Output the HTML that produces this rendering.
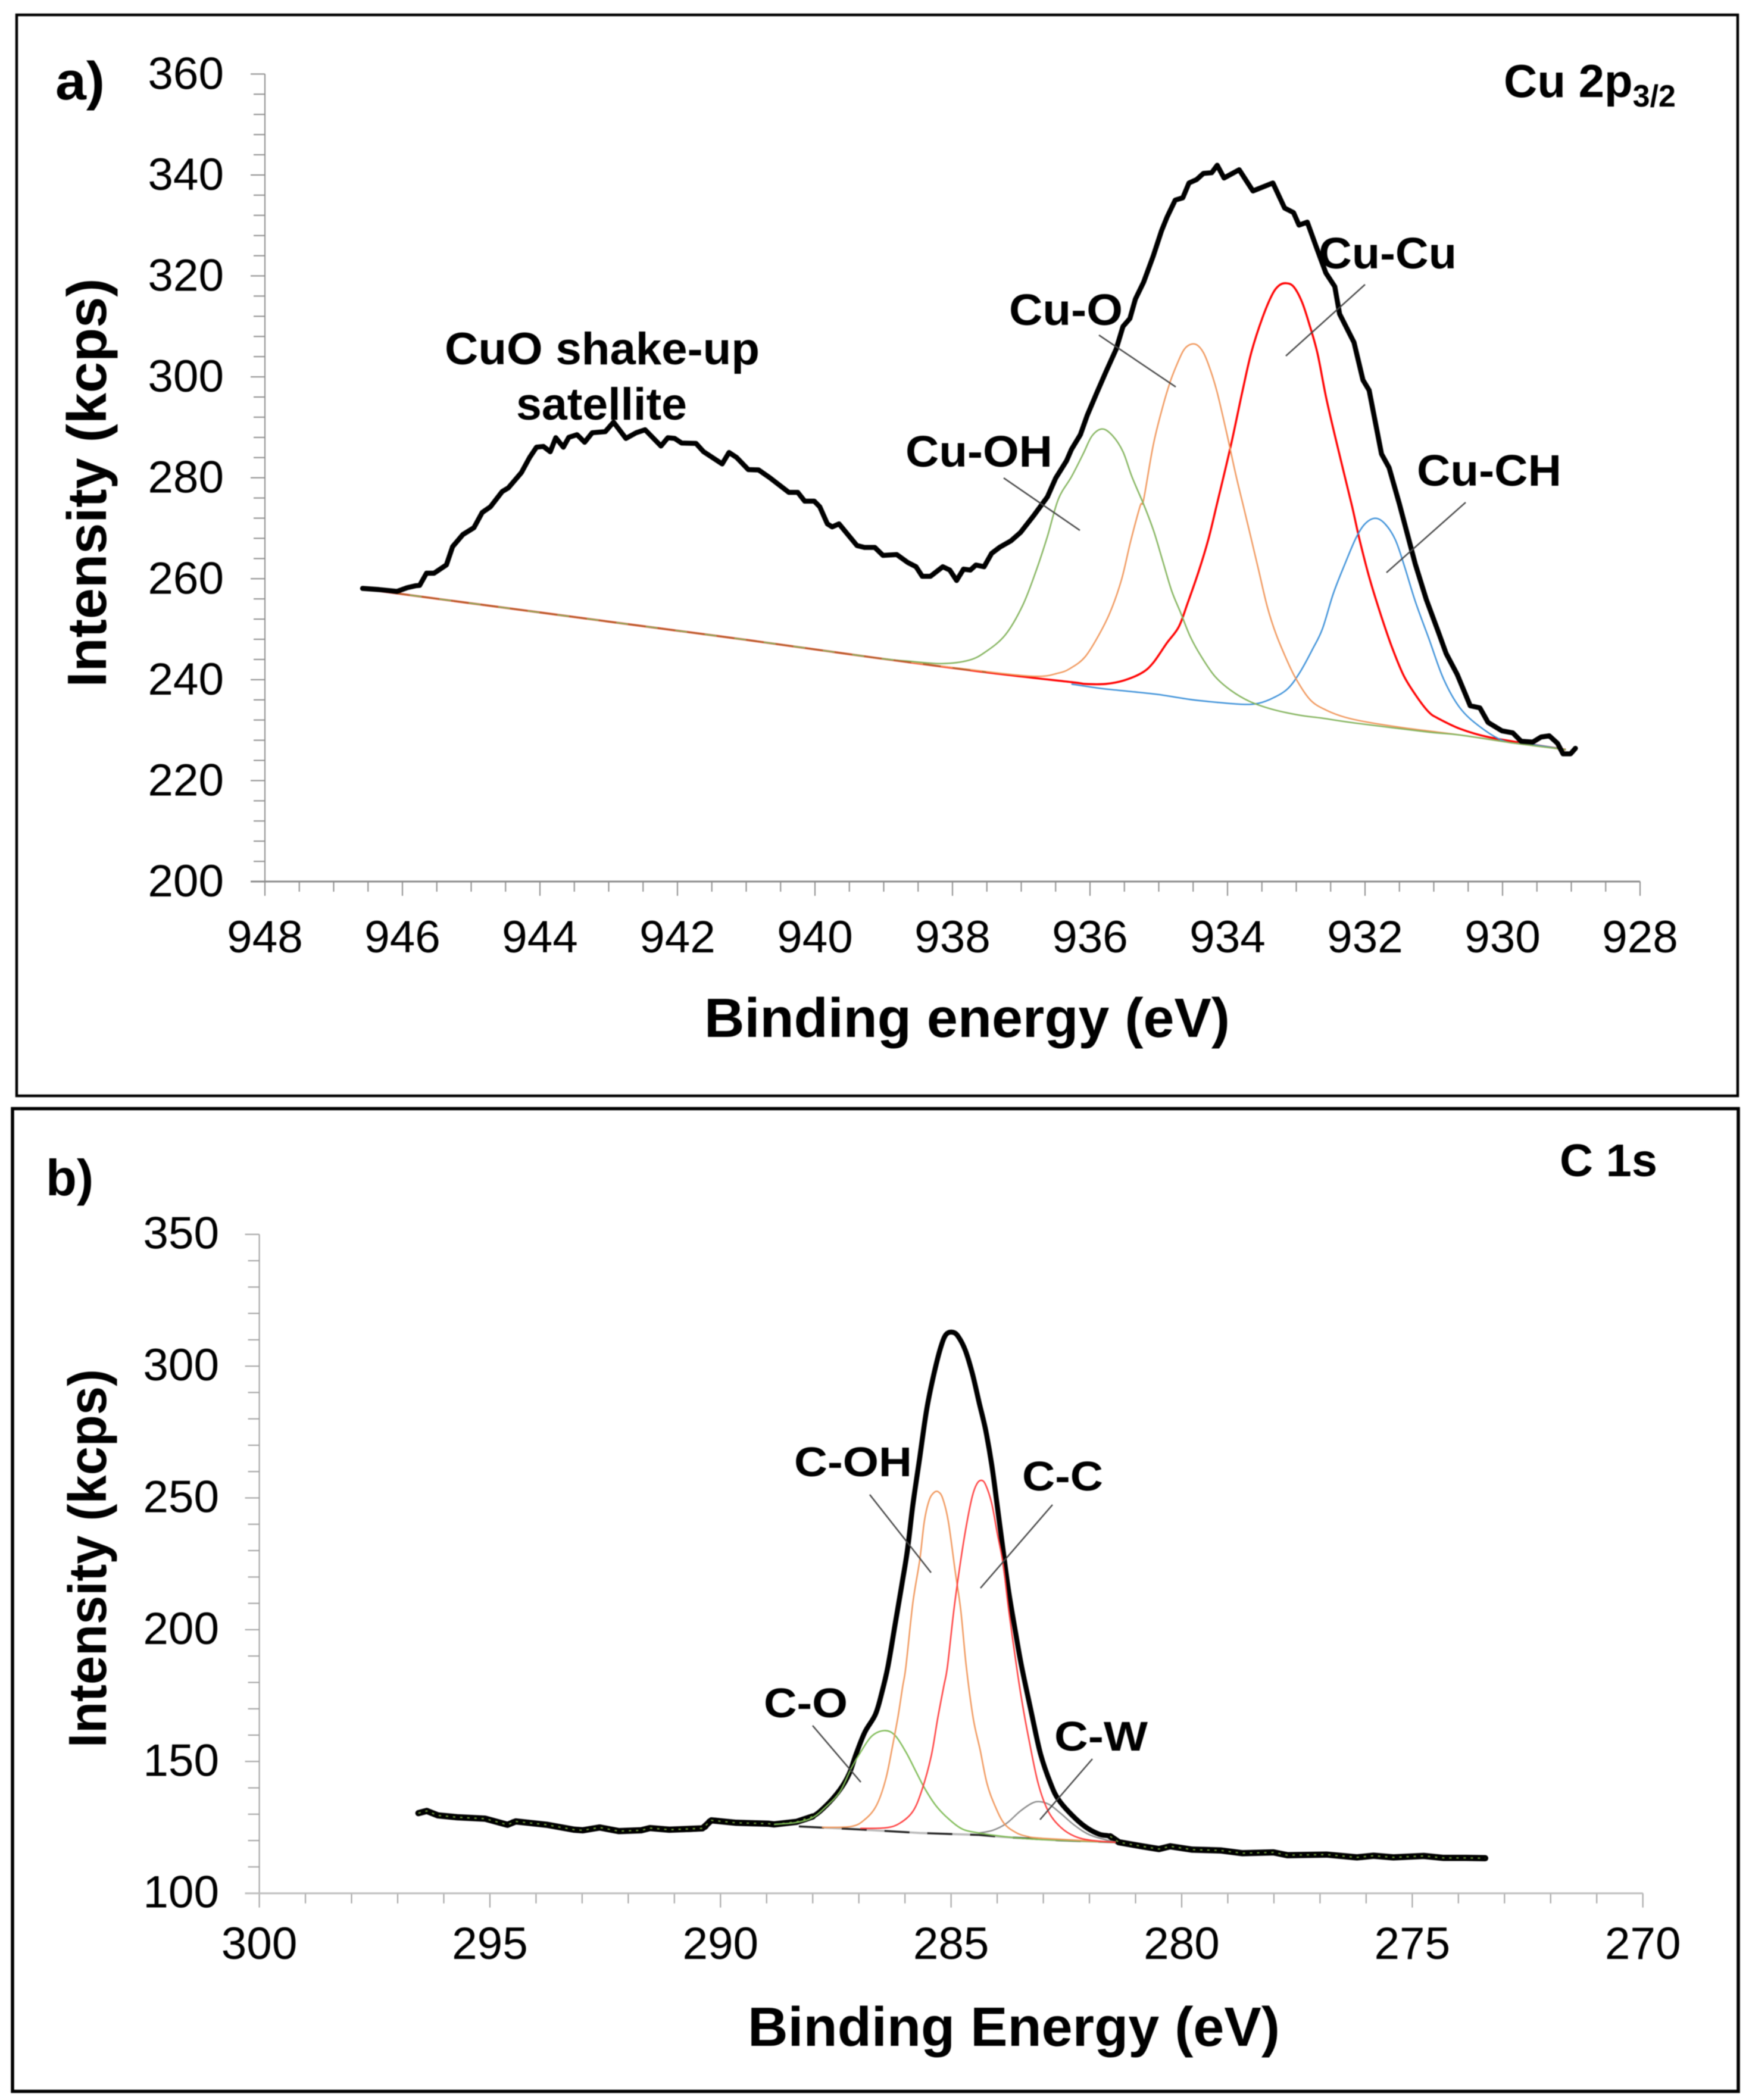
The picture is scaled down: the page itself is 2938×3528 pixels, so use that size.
<!DOCTYPE html>
<html lang="en">
<head>
<meta charset="utf-8">
<title>XPS spectra: Cu 2p3/2 and C 1s</title>
<style>
html,body{margin:0;padding:0;background:#fff;}
svg{display:block;filter:blur(0.9px);}
text{font-family:"Liberation Sans",Arial,sans-serif;fill:#000;}
.b{font-weight:bold;}
</style>
</head>
<body>
<svg id="figure" xmlns="http://www.w3.org/2000/svg" width="2938" height="3528" viewBox="0 0 2938 3528">
  <rect x="0" y="0" width="2938" height="3528" fill="#fff"/>
  <rect x="28" y="25" width="2891" height="1816" fill="none" stroke="#000" stroke-width="4.5"/>
  <rect x="21" y="1862.5" width="2899" height="1651" fill="none" stroke="#000" stroke-width="5.5"/>
  <g id="panel-a"></g>
  <g id="panel-b"></g>

  <g>
    <text class="b" x="93" y="167" font-size="90" textLength="83" lengthAdjust="spacingAndGlyphs">a)</text>
    <text class="b" x="2526" y="163" font-size="78">Cu 2p<tspan dy="16" font-size="52">3/2</tspan></text>
    <text class="b" x="1183" y="1742" font-size="93" textLength="883" lengthAdjust="spacingAndGlyphs">Binding energy (eV)</text>
    <text class="b" x="178" y="811" font-size="93" text-anchor="middle" textLength="687" lengthAdjust="spacingAndGlyphs" transform="rotate(-90 178 811)">Intensity (kcps)</text>
    <text class="b" x="747" y="612" font-size="76" textLength="529" lengthAdjust="spacingAndGlyphs">CuO shake-up</text>
    <text class="b" x="867" y="705" font-size="76" textLength="287" lengthAdjust="spacingAndGlyphs">satellite</text>
    <text class="b" x="1521" y="784" font-size="74" textLength="247" lengthAdjust="spacingAndGlyphs">Cu-OH</text>
    <text class="b" x="1695" y="546" font-size="74" textLength="191" lengthAdjust="spacingAndGlyphs">Cu-O</text>
    <text class="b" x="2215" y="451" font-size="74" textLength="232" lengthAdjust="spacingAndGlyphs">Cu-Cu</text>
    <text class="b" x="2380" y="816" font-size="74" textLength="243" lengthAdjust="spacingAndGlyphs">Cu-CH</text>
  </g>

  <g>
    <text class="b" x="77" y="2008" font-size="85">b)</text>
    <text class="b" x="2620" y="1976" font-size="77" textLength="164" lengthAdjust="spacingAndGlyphs">C 1s</text>
    <text class="b" x="1256" y="3437" font-size="93" textLength="894" lengthAdjust="spacingAndGlyphs">Binding Energy (eV)</text>
    <text class="b" x="178" y="2618" font-size="90" text-anchor="middle" textLength="636" lengthAdjust="spacingAndGlyphs" transform="rotate(-90 178 2618)">Intensity (kcps)</text>
    <text class="b" x="1334" y="2480" font-size="70" textLength="198" lengthAdjust="spacingAndGlyphs">C-OH</text>
    <text class="b" x="1717" y="2504" font-size="70" textLength="136" lengthAdjust="spacingAndGlyphs">C-C</text>
    <text class="b" x="1283" y="2885" font-size="70" textLength="141" lengthAdjust="spacingAndGlyphs">C-O</text>
    <text class="b" x="1771" y="2941" font-size="70" textLength="157" lengthAdjust="spacingAndGlyphs">C-W</text>
  </g>

  <g stroke="#444" stroke-width="2.4" fill="none">
    <line x1="1686" y1="803" x2="1814" y2="891"/>
    <line x1="1846" y1="563" x2="1975" y2="650"/>
    <line x1="2293" y1="478" x2="2160" y2="598"/>
    <line x1="2462" y1="844" x2="2329" y2="962"/>
    <line x1="1461" y1="2511" x2="1564" y2="2642"/>
    <line x1="1768" y1="2528" x2="1647" y2="2668"/>
    <line x1="1365" y1="2899" x2="1446" y2="2994"/>
    <line x1="1835" y1="2955" x2="1747" y2="3057"/>
  </g>
</svg>

<script>
/* ---------- Panel a: tick values ---------- */
var aXTicks = [948, 946, 944, 942, 940, 938, 936, 934, 932, 930, 928];
var aYTicks = [200, 220, 240, 260, 280, 300, 320, 340, 360];

/* Panel a: measured envelope */
var aMainEnergy = [946.58,946.34,946.08,945.93,945.81,945.75,945.65,945.54,945.36,945.27,945.12,944.96,944.84,944.72,944.55,944.46,944.27,944.15,944.05,943.95,943.85,943.77,943.66,943.58,943.46,943.35,943.24,943.05,942.93,942.75,942.6,942.47,942.24,942.14,942.04,941.94,941.73,941.62,941.35,941.25,941.14,940.97,940.82,940.66,940.38,940.25,940.15,940.01,939.93,939.82,939.75,939.65,939.39,939.28,939.13,939.01,938.81,938.65,938.53,938.44,938.32,938.14,938.04,937.94,937.84,937.74,937.66,937.54,937.43,937.31,937.15,937.01,936.82,936.62,936.5,936.34,936.27,936.14,936.04,935.9,935.77,935.62,935.52,935.42,935.34,935.22,935.08,934.96,934.88,934.76,934.65,934.56,934.45,934.35,934.23,934.15,934.05,933.83,933.63,933.34,933.17,933.04,932.96,932.84,932.71,932.57,932.44,932.37,932.16,932.03,931.94,931.76,931.65,931.5,931.27,931.11,930.93,930.82,930.66,930.47,930.33,930.21,930.01,929.85,929.73,929.56,929.44,929.32,929.2,929.12,929.01,928.94];
var aMainIntensity = [258.08,257.85,257.48,258.23,258.6,258.68,261.09,261.09,262.74,266.35,268.76,270.11,273.12,274.25,277.26,278.01,281.02,284.03,286.06,286.21,285.16,287.94,286.06,288.02,288.54,287.04,288.92,289.14,291.02,287.79,288.92,289.52,286.29,287.94,287.79,286.89,286.81,285.16,282.75,285.01,284.03,281.62,281.55,280.04,277.11,277.11,275.38,275.38,274.25,270.87,270.27,270.87,266.58,266.2,266.2,264.62,264.78,263.21,262.38,260.48,260.48,262.38,261.72,259.65,261.89,261.72,262.71,262.38,265.03,266.27,267.51,269.17,272.48,276.2,279.92,283.4,285.61,288.54,292.38,296.89,300.95,305.47,309.98,311.56,315.39,318.78,323.97,328.93,331.64,335.03,335.48,338.41,339.09,340.31,340.44,341.93,339.4,341.03,336.83,338.41,333.45,332.54,330.06,330.65,325.77,320.58,317.88,312.46,306.82,299.37,297.34,284.71,282.0,274.78,262.96,255.93,249.31,245.17,241.04,234.83,234.42,231.52,229.87,229.45,227.8,227.63,228.63,228.87,227.39,225.31,225.31,226.39];

/* Panel a: fitted component Cu-OH */
var aCuOhEnergy = [946.58,943,941,939.13,938.65,938.16,937.76,937.51,937.23,936.98,936.78,936.62,936.46,936.27,936.1,935.97,935.82,935.67,935.52,935.39,935.21,935.07,934.94,934.81,934.68,934.54,934.38,934.18,933.95,933.68,933.35,932.95,932.62,932.13,931.07,930.62,929.81,929.08];
var aCuOhIntensity = [258.0,251.5,247.9,244.35,243.68,243.19,243.85,245.59,248.9,254.69,261.72,268.34,275.79,280.19,284.71,288.31,289.67,288.31,285.16,280.19,274.42,269.31,263.41,257.52,253.19,248.48,244.54,240.61,237.86,235.7,234.13,232.95,232.36,231.38,229.6,229.04,227.39,226.14];

/* Panel a: fitted component Cu-O */
var aCuOEnergy = [946.58,943,941,939.13,938,936.86,936.46,936.27,936.07,935.87,935.7,935.54,935.41,935.27,935.22,935.08,934.94,934.83,934.74,934.64,934.55,934.45,934.35,934.25,934.15,934.01,933.88,933.77,933.68,933.55,933.42,933.29,933.12,932.99,932.79,932.56,932.29,931.96,931.43,930.62,929.81,929.08];
var aCuOIntensity = [258.0,251.5,247.9,244.35,242.4,240.7,241.3,242.38,244.54,248.87,253.59,259.88,267.34,274.42,275.68,286.51,294.18,299.15,302.31,305.24,306.37,306.37,304.79,301.4,296.89,288.77,280.64,274.42,269.31,261.84,254.37,248.87,243.37,239.83,235.9,233.93,232.55,231.57,230.45,229.04,227.39,226.14];

/* Panel a: fitted component Cu-Cu */
var aCuCuEnergy = [946.58,943,941,939.13,937.51,936.27,936.07,935.77,935.51,935.24,935.08,934.88,934.71,934.58,934.41,934.28,934.16,933.95,933.78,933.65,933.49,933.35,933.25,933.15,933.04,932.92,932.81,932.69,932.56,932.39,932.19,932.08,931.93,931.76,931.6,931.43,931.23,931.07,930.94,930.62,930.21,929.56,929.08];
var aCuCuIntensity = [258.0,251.5,247.9,244.35,241.45,239.51,239.16,239.16,239.83,241.4,243.37,247.3,250.44,255.16,261.84,267.74,274.42,286.51,297.34,305.01,311.78,316.3,318.1,318.55,317.88,314.94,310.43,304.56,295.54,285.61,274.42,267.74,259.87,252.41,246.12,240.61,236.29,233.54,232.35,230.28,228.63,227.14,226.14];

/* Panel a: fitted component Cu-CH */
var aCuChEnergy = [936.27,935.84,935.41,935.01,934.55,934.15,933.78,933.55,933.32,933.12,932.95,932.76,932.62,932.46,932.29,932.13,932.0,931.85,931.71,931.56,931.43,931.27,931.07,930.86,930.62,930.33,929.97,929.56,929.08];
var aCuChIntensity = [239.12,238.26,237.66,237.07,236.09,235.5,235.11,235.31,236.49,238.26,241.4,246.12,250.05,257.12,263.02,268.13,270.88,271.98,270.88,267.74,262.63,255.55,248.08,240.21,234.42,230.69,227.8,227.14,226.14];

/* ---------- Panel b: tick values ---------- */
var bXTicks = [300, 295, 290, 285, 280, 275, 270];
var bYTicks = [100, 150, 200, 250, 300, 350];

/* Panel b: measured envelope */
var bMainEnergy = [296.55,296.37,296.13,295.71,295.1,294.62,294.44,293.77,293.17,292.99,292.62,292.2,291.72,291.53,291.11,290.39,290.2,289.66,288.95,288.84,288.35,288.0,287.71,287.41,287.21,287.06,286.87,286.64,286.5,286.37,286.22,286.07,285.95,285.83,285.68,285.53,285.38,285.23,285.11,284.96,284.84,284.69,284.54,284.39,284.25,284.12,284.0,283.87,283.75,283.6,283.47,283.26,283.06,282.84,282.67,282.37,282.07,281.78,281.55,281.36,280.86,280.49,280.25,279.77,279.16,278.68,278.01,277.71,276.86,276.2,275.84,275.41,274.75,274.32,273.84,273.42];
var bMainIntensity = [130.4,131.24,129.56,128.83,128.3,126.0,127.26,126.0,124.11,123.9,124.95,123.58,123.9,124.74,124.11,124.63,127.67,126.73,126.37,126.12,127.1,129.13,133.27,139.3,145.32,152.85,161.13,167.9,176.2,185.96,201.34,216.9,229.86,247.15,265.3,283.45,296.41,306.79,311.97,312.84,311.11,305.92,297.28,286.04,275.67,262.71,247.15,229.86,214.31,198.75,185.96,168.66,152.85,141.56,135.53,129.51,124.99,122.36,121.61,119.35,117.82,116.77,117.82,116.56,116.25,115.2,115.51,114.46,114.67,113.62,114.25,113.62,114.15,113.41,113.41,113.31];

/* Panel b: fitted component C-O */
var bCOEnergy = [288.84,288.35,288.0,287.71,287.41,287.16,286.96,286.72,286.45,286.22,285.98,285.78,285.58,285.33,285.04,284.74,284.4,283.9,283.16,281.43];
var bCOIntensity = [126.12,126.88,128.76,132.9,138.54,147.58,153.6,159.62,161.73,160.0,153.6,146.82,140.05,133.27,128.0,124.24,122.88,121.61,120.48,119.35];

/* Panel b: fitted component C-OH */
var bCOhEnergy = [287.8,287.16,286.87,286.62,286.42,286.27,286.15,286.05,285.98,285.83,285.68,285.58,285.48,285.38,285.28,285.18,285.06,284.91,284.79,284.67,284.52,284.37,284.22,284.05,283.85,283.6,283.36,283.01,281.43];
var bCOhIntensity = [124.99,125.37,128.0,133.27,143.06,155.86,167.15,178.44,185.96,210.0,226.41,241.1,248.88,251.9,252.34,249.74,241.1,222.09,207.4,185.97,166.4,154.35,141.55,133.27,126.5,123.11,121.61,120.85,119.35];

/* Panel b: fitted component C-C */
var bCCEnergy = [286.97,286.42,286.12,285.83,285.63,285.43,285.29,285.16,285.08,284.94,284.79,284.67,284.54,284.44,284.34,284.25,284.12,284.0,283.87,283.75,283.58,283.46,283.31,283.11,282.89,282.62,282.32,281.97,281.43];
var bCCIntensity = [124.62,124.84,126.5,131.02,139.3,152.09,166.4,178.44,185.96,207.4,226.41,239.37,250.61,255.36,256.66,254.93,248.02,236.78,224.68,207.4,185.96,172.42,158.12,141.55,131.02,125.0,121.61,120.1,119.35];

/* Panel b: fitted component C-W */
var bCWEnergy = [284.4,284.1,283.8,283.51,283.26,283.09,282.87,282.62,282.32,281.97,281.43];
var bCWIntensity = [122.88,123.86,126.5,131.02,134.03,134.78,133.65,130.26,125.75,121.98,119.35];

/* Panel b: fitted background */
var bBackgroundEnergy = [288.3,287.01,285.68,284.4,283.9,282.67,281.43];
var bBackgroundIntensity = [125.37,124.24,122.88,122.13,121.38,120.1,119.35];

/* ---------- Drawing ---------- */
var SVGNS = 'http://www.w3.org/2000/svg';

function make(parent, tag, attrs) {
  var el = document.createElementNS(SVGNS, tag);
  for (var k in attrs) { el.setAttribute(k, attrs[k]); }
  parent.appendChild(el);
  return el;
}

function linearPath(xs, ys, sx, sy) {
  var d = '';
  for (var i = 0; i < xs.length; i++) {
    d += (i ? 'L' : 'M') + sx(xs[i]).toFixed(1) + ' ' + sy(ys[i]).toFixed(1);
  }
  return d;
}

function smoothPath(xs, ys, sx, sy) {
  var p = [];
  for (var i = 0; i < xs.length; i++) { p.push([sx(xs[i]), sy(ys[i])]); }
  var d = 'M' + p[0][0].toFixed(1) + ' ' + p[0][1].toFixed(1);
  for (var j = 0; j < p.length - 1; j++) {
    var a = p[Math.max(j - 1, 0)], b = p[j], c = p[j + 1], e = p[Math.min(j + 2, p.length - 1)];
    d += 'C' + (b[0] + (c[0] - a[0]) / 6).toFixed(1) + ' ' + (b[1] + (c[1] - a[1]) / 6).toFixed(1) +
         ' ' + (c[0] - (e[0] - b[0]) / 6).toFixed(1) + ' ' + (c[1] - (e[1] - b[1]) / 6).toFixed(1) +
         ' ' + c[0].toFixed(1) + ' ' + c[1].toFixed(1);
  }
  return d;
}

function drawAxes(g, prefix, sx, sy, xTicks, yTicks, xSub, ySub, opt) {
  var xFirst = xTicks[0], xLast = xTicks[xTicks.length - 1];
  var yFirst = yTicks[0], yLast = yTicks[yTicks.length - 1];
  var xStep = (xTicks[1] - xTicks[0]) / xSub;
  var yStep = (yTicks[1] - yTicks[0]) / ySub;
  var nx = (xTicks.length - 1) * xSub, ny = (yTicks.length - 1) * ySub;
  var i, t, el;

  for (i = 0; i <= nx; i++) {
    t = xFirst + i * xStep;
    var major = i % xSub === 0;
    el = make(g, 'line', {x1: sx(t), y1: sy(yFirst), x2: sx(t), y2: sy(yFirst) + (major ? 24 : 17), stroke: opt.tickColor, 'stroke-width': 2});
    
    
  }
  for (i = 0; i <= ny; i++) {
    t = yFirst + i * yStep;
    var majorY = i % ySub === 0;
    el = make(g, 'line', {x1: sx(xFirst) - (majorY ? 24 : 19), y1: sy(t), x2: sx(xFirst), y2: sy(t), stroke: opt.tickColor, 'stroke-width': 2});
    
    
  }
  el = make(g, 'line', {x1: sx(xFirst), y1: sy(yFirst), x2: sx(xFirst), y2: sy(yLast), stroke: opt.tickColor, 'stroke-width': 2});
  
  
  el = make(g, 'line', {x1: sx(xFirst) - 24, y1: sy(yFirst), x2: sx(xLast), y2: sy(yFirst), stroke: opt.axisColor, 'stroke-width': 3});
  
  

  xTicks.forEach(function (v) {
    var tx = make(g, 'text', {x: sx(v), y: opt.xLabelY, 'font-size': 76.5, 'text-anchor': 'middle'});
    
    
    tx.textContent = v;
  });
  yTicks.forEach(function (v) {
    var ty = make(g, 'text', {x: opt.yLabelX, y: sy(v) + opt.yLabelDy, 'font-size': 76.5, 'text-anchor': 'end'});
    
    
    ty.textContent = v;
  });
}

/* Panel a */
(function () {
  var g = document.getElementById('panel-a');
  var sx = function (e) { return 445 + (948 - e) * 115.5; };
  var sy = function (v) { return 1481 - (v - 200) * 8.479; };
  drawAxes(g, 'panel-a', sx, sy, aXTicks, aYTicks, 4, 5, {tickColor: '#8c8c8c', axisColor: '#8c8c8c', xLabelY: 1600, yLabelX: 376, yLabelDy: 25});

  var el;
  el = make(g, 'path', {d: smoothPath(aCuCuEnergy, aCuCuIntensity, sx, sy), fill: 'none', stroke: '#ff0000', 'stroke-width': 3.4});
  
  

  el = make(g, 'path', {d: smoothPath(aCuChEnergy, aCuChIntensity, sx, sy), fill: 'none', stroke: '#3a8fd8', 'stroke-width': 2.4});
  
  

  el = make(g, 'path', {d: smoothPath(aCuOEnergy, aCuOIntensity, sx, sy), fill: 'none', stroke: '#f0965a', 'stroke-width': 2.4});
  
  

  el = make(g, 'path', {d: smoothPath(aCuOhEnergy, aCuOhIntensity, sx, sy), fill: 'none', stroke: '#83b35c', 'stroke-width': 2.4});
  
  

  /* the stacked baseline reads as a red/olive mix in the reference */
  el = make(g, 'path', {d: linearPath(aCuCuEnergy.slice(0, 5), aCuCuIntensity.slice(0, 5), sx, sy), fill: 'none', stroke: '#b5602a', 'stroke-width': 2.6, 'stroke-dasharray': '30 20'});
  
  

  el = make(g, 'path', {d: linearPath(aMainEnergy, aMainIntensity, sx, sy), fill: 'none', stroke: '#000', 'stroke-width': 8.4, 'stroke-linejoin': 'round', 'stroke-linecap': 'round'});
  
  
})();

/* Panel b */
(function () {
  var g = document.getElementById('panel-b');
  var sx = function (e) { return 435.6 + (300 - e) * 77.47; };
  var sy = function (v) { return 3180.7 - (v - 100) * 4.428; };
  drawAxes(g, 'panel-b', sx, sy, bXTicks, bYTicks, 5, 5, {tickColor: '#a0a0a0', axisColor: '#bdbdbd', xLabelY: 3291, yLabelX: 368, yLabelDy: 24});

  var el;
  el = make(g, 'path', {d: smoothPath(bMainEnergy, bMainIntensity, sx, sy), fill: 'none', stroke: '#000', 'stroke-width': 8.4, 'stroke-linejoin': 'round', 'stroke-linecap': 'round'});
  
  

  /* the flat wings read thicker in the reference, with a dotted coloured fit on top */
  var leftE = [], leftI = [], rightE = [], rightI = [];
  bMainEnergy.forEach(function (e, i) {
    if (e > 287.9) { leftE.push(e); leftI.push(bMainIntensity[i]); }
    if (e < 281.6) { rightE.push(e); rightI.push(bMainIntensity[i]); }
  });
  var wings = linearPath(leftE, leftI, sx, sy) + linearPath(rightE, rightI, sx, sy);

  el = make(g, 'path', {d: wings, fill: 'none', stroke: '#000', 'stroke-width': 10.5, 'stroke-linejoin': 'round', 'stroke-linecap': 'round'});
  
  

  el = make(g, 'path', {d: wings, fill: 'none', stroke: '#6f9a3c', 'stroke-width': 2.2, 'stroke-dasharray': '4 8'});
  
  

  el = make(g, 'path', {d: linearPath(bBackgroundEnergy, bBackgroundIntensity, sx, sy), fill: 'none', stroke: '#bbbbbb', 'stroke-width': 3.6});
  
  

  el = make(g, 'path', {d: linearPath(bBackgroundEnergy, bBackgroundIntensity, sx, sy), fill: 'none', stroke: '#222222', 'stroke-width': 3.2, 'stroke-dasharray': '42 30'});
  
  

  el = make(g, 'path', {d: smoothPath(bCWEnergy, bCWIntensity, sx, sy), fill: 'none', stroke: '#8a8a8a', 'stroke-width': 2.4});
  
  

  el = make(g, 'path', {d: smoothPath(bCOEnergy, bCOIntensity, sx, sy), fill: 'none', stroke: '#7fbb56', 'stroke-width': 2.4});
  
  

  el = make(g, 'path', {d: smoothPath(bCOhEnergy, bCOhIntensity, sx, sy), fill: 'none', stroke: '#f0965a', 'stroke-width': 2.4});
  
  

  el = make(g, 'path', {d: smoothPath(bCCEnergy, bCCIntensity, sx, sy), fill: 'none', stroke: '#ff3b3b', 'stroke-width': 2.4});
  
  
})();
</script>
</body>
</html>
